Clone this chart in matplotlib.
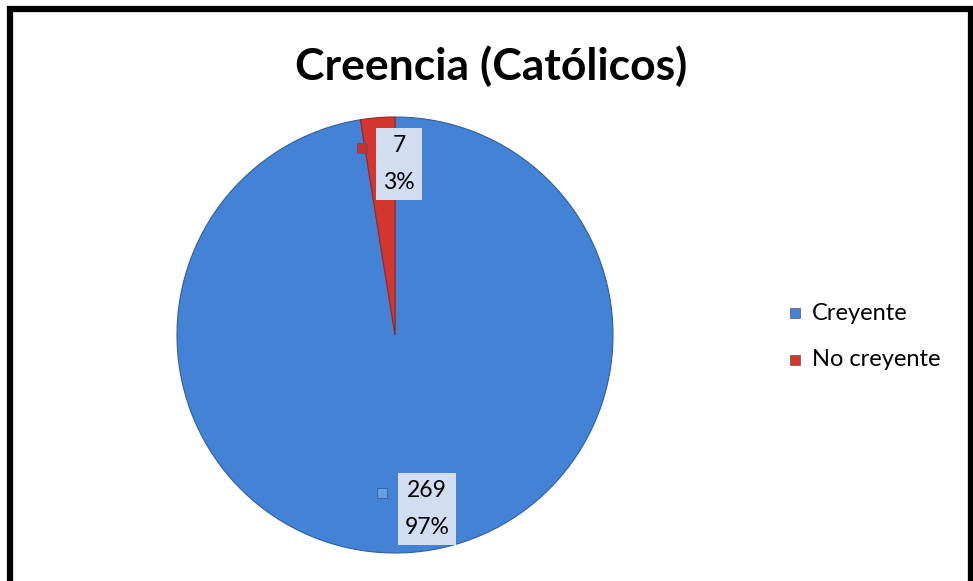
import matplotlib.pyplot as plt
from matplotlib.patches import Rectangle

plt.rcParams['font.family'] = ['Lato', 'DejaVu Sans']

categories = ["Creyente", "No creyente"]
counts = [269, 7]
percents = ["97%", "3%"]
colors = ["#4382d4", "#d3362e"]
marker_colors = ["#66a0e4", "#c9312b"]

fig = plt.figure(figsize=(9.73, 5.81), dpi=100)

# outer frame (bottom edge cut off like the original)
fig.patches.append(Rectangle((10 / 973, -0.05), 961 / 973, 1.05 - 9 / 581,
                             transform=fig.transFigure, fill=False,
                             edgecolor="black", linewidth=4.5))

fig.text(491 / 973, 1 - 66 / 581, "Creencia (Católicos)", ha="center",
         va="center", fontsize=32, fontweight="bold")

ax = fig.add_axes([177 / 973, 28 / 581, 436 / 973, 436 / 581])
wedges, _ = ax.pie(counts, colors=colors, startangle=90, counterclock=False,
                   wedgeprops=dict(edgecolor="#2f5f9e", linewidth=0.8))
wedges[1].set_edgecolor("#9c2520")
ax.set_xlim(-1, 1)
ax.set_ylim(-1, 1)
ax.set_aspect("equal")

# data labels with legend key
label_pos = [(427, 509), (399, 164)]
key_pos = [(382, 493), (362, 148)]
for i in range(len(counts)):
    x, y = label_pos[i]
    fig.text(x / 973, 1 - y / 581, f"{counts[i]}\n{percents[i]}",
             ha="center", va="center", fontsize=16.5, linespacing=1.9,
             bbox=dict(boxstyle="square,pad=0.3", facecolor="#d3ddf0",
                       edgecolor="none"))
    kx, ky = key_pos[i]
    fig.patches.append(Rectangle((kx / 973 - 5 / 973, 1 - ky / 581 - 5 / 581),
                                 10 / 973, 10 / 581, transform=fig.transFigure,
                                 facecolor=marker_colors[i], edgecolor="#3a5f8f",
                                 linewidth=0.6))

# legend
leg_y = [313, 360]
for i, cat in enumerate(categories):
    fig.patches.append(Rectangle((790 / 973, 1 - (leg_y[i] + 5) / 581),
                                 10 / 973, 10 / 581, transform=fig.transFigure,
                                 facecolor=colors[i], edgecolor="#555555",
                                 linewidth=0.5))
    fig.text(812 / 973, 1 - leg_y[i] / 581, cat, ha="left", va="center",
             fontsize=17)

fig.savefig("out.png", dpi=100)
